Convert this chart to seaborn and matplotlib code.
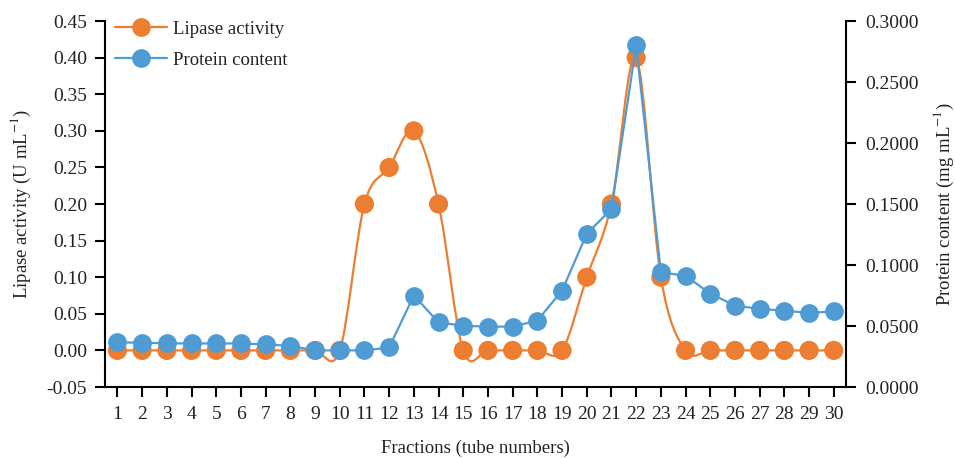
import numpy as np
import seaborn as sns
import matplotlib.pyplot as plt
from matplotlib.path import Path
from matplotlib.patches import PathPatch
from matplotlib.lines import Line2D
from matplotlib.ticker import FormatStrFormatter

fractions = list(range(1, 31))
lipase = [0, 0, 0, 0, 0, 0, 0, 0, 0, 0,
          0.20, 0.25, 0.30, 0.20, 0, 0, 0, 0, 0, 0.10,
          0.20, 0.40, 0.10, 0, 0, 0, 0, 0, 0, 0]
protein = [0.0365, 0.0364, 0.0358, 0.0357, 0.0357, 0.0357, 0.0349, 0.0338, 0.0300, 0.0300,
           0.0300, 0.0324, 0.0750, 0.0530, 0.0502, 0.0495, 0.0495, 0.0545, 0.0790, 0.1255,
           0.1460, 0.2800, 0.0940, 0.0912, 0.0765, 0.0668, 0.0640, 0.0626, 0.0607, 0.0620]

orange = "#ED7D31"
blue = "#4F9BD4"
ink = "#222222"

sns.set_style("ticks")
plt.rcParams["font.family"] = ["Liberation Serif", "DejaVu Serif"]
plt.rcParams["mathtext.fontset"] = "stix"
plt.rcParams["font.size"] = 13.5


def smooth_path(xs, ys):
    # excel-style smoothed line: cubic bezier through the points
    pts = np.column_stack([xs, ys]).astype(float)
    n = len(pts)
    verts = [pts[0]]
    codes = [Path.MOVETO]
    for i in range(n - 1):
        p0 = pts[max(i - 1, 0)]
        p1 = pts[i]
        p2 = pts[i + 1]
        p3 = pts[min(i + 2, n - 1)]
        verts += [p1 + (p2 - p0) / 6, p2 - (p3 - p1) / 6, p2]
        codes += [Path.CURVE4] * 3
    return Path(verts, codes)


fig, ax = plt.subplots(figsize=(9.55, 4.58), dpi=100)
fig.subplots_adjust(left=0.110, right=0.886, top=0.954, bottom=0.155)
ax2 = ax.twinx()

# lipase on left axis, smoothed
ax.add_patch(PathPatch(smooth_path(fractions, lipase), facecolor="none",
                       edgecolor=orange, lw=1.6, zorder=2))
sns.scatterplot(x=fractions, y=lipase, ax=ax, color=orange, s=190,
                edgecolor="none", zorder=3, legend=False)

# protein on right axis, straight segments
sns.lineplot(x=fractions, y=protein, ax=ax2, color=blue, lw=1.6,
             marker="o", markersize=13.5, markeredgewidth=0, legend=False)

ax.set_xlim(0.5, 30.5)
ax.set_ylim(-0.05, 0.45)
ax2.set_ylim(0, 0.3)
ax.set_xticks(fractions)
ax.set_yticks(np.arange(-0.05, 0.451, 0.05))
ax2.set_yticks(np.arange(0, 0.301, 0.05))
ax.yaxis.set_major_formatter(FormatStrFormatter("%.2f"))
ax2.yaxis.set_major_formatter(FormatStrFormatter("%.4f"))
ax2.patch.set_visible(False)

for a in (ax, ax2):
    a.spines["top"].set_visible(False)
    for s in a.spines.values():
        s.set_color("black")
        s.set_linewidth(1.5)
    a.tick_params(colors="black", labelcolor=ink, width=1.5, length=7, labelsize=14)
ax.spines["right"].set_visible(False)
ax2.spines["left"].set_visible(False)
ax2.spines["bottom"].set_visible(False)
ax.tick_params(axis="x", pad=7)
ax.tick_params(axis="y", pad=6)
ax2.tick_params(axis="y", pad=7)

ax.set_xlabel("Fractions (tube numbers)", color=ink, fontsize=13.5, labelpad=12)
ax.set_ylabel("Lipase activity (U mL$^{-1}$)", color=ink, fontsize=13.5, labelpad=10)
ax2.set_ylabel("Protein content (mg mL$^{-1}$)", color=ink, fontsize=13.5, labelpad=9)

handles = [
    Line2D([], [], color=orange, lw=1.6, marker="o", markersize=13.5, markeredgewidth=0),
    Line2D([], [], color=blue, lw=1.6, marker="o", markersize=13.5, markeredgewidth=0),
]
ax2.legend(handles, ["Lipase activity", "Protein content"], loc="upper left",
           bbox_to_anchor=(0.0, 1.03), frameon=False, handlelength=2.75,
           handletextpad=0.3, labelspacing=0.75, fontsize=13.5, labelcolor=ink,
           borderaxespad=0.15)

fig.savefig("out.png", dpi=100)
